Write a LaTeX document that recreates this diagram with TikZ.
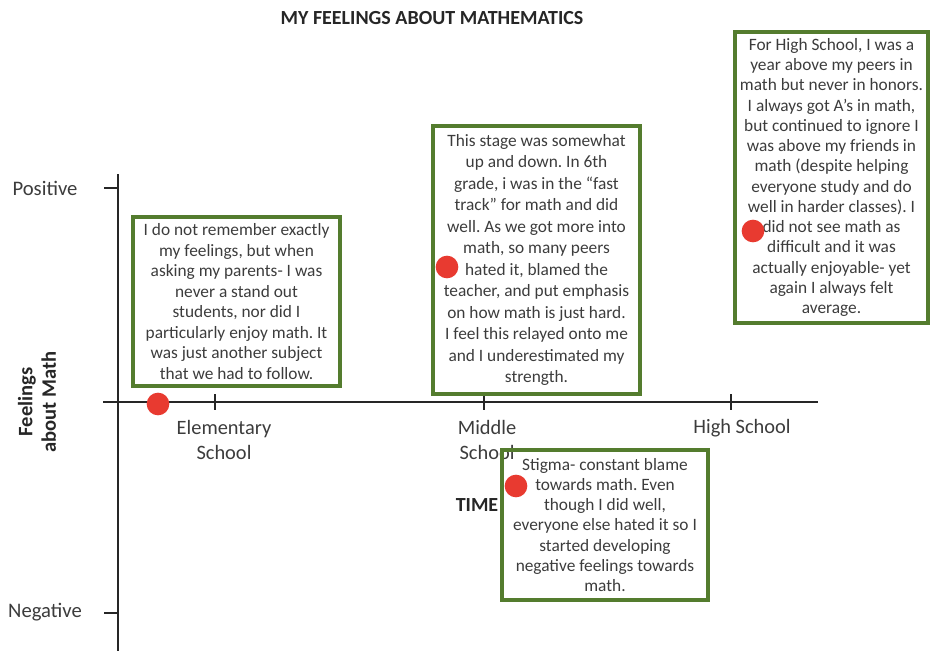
\documentclass[tikz,border=0pt]{standalone}
\usepackage{fontspec}
\setmainfont{Carlito}
\usetikzlibrary{positioning}

\definecolor{boxgreen}{RGB}{84,124,46}
\definecolor{dotred}{RGB}{232,58,48}
\definecolor{inkgray}{RGB}{60,60,60}

\begin{document}
\frenchspacing
\begin{tikzpicture}[
    x=0.75pt, y=-0.75pt,
    font=\fontsize{13}{15.4}\selectfont,
    text=inkgray,
    notebox/.style={
        rectangle, draw=boxgreen, line width=2.6pt,
        align=center, inner sep=0pt
    },
    feeldot/.style={circle, fill=dotred, minimum size=17pt, inner sep=0pt},
    header/.style={font=\fontsize{15}{18}\selectfont\bfseries, text=black!85},
    stagelabel/.style={font=\fontsize{15.3}{19}\selectfont, align=center},
    axislabel/.style={font=\fontsize{15.5}{18}\selectfont},
    axis/.style={line width=1.5pt, black!85},
]
    \useasboundingbox (0,0) rectangle (930,651);

    % Axis positions (pixels of the reference).
    \def\xAxis{118}
    \def\yAxis{402}
    \def\yPos{188}
    \def\yNeg{613}

    % Stage tick x-coordinates.
    \def\xElem{215}
    \def\xMid{484}
    \def\xHigh{731}

    % ---------- Axes ----------
    \coordinate (haxis-start) at (103, \yAxis);
    \coordinate (haxis-end) at (818, \yAxis);
    \coordinate (vaxis-top) at (\xAxis, 174);
    \coordinate (vaxis-bot) at (\xAxis, 651);
    \draw[axis] (haxis-start) -- (haxis-end);
    \draw[axis] (vaxis-top) -- (vaxis-bot);

    \coordinate (pos-tick) at (\xAxis, \yPos);
    \coordinate (neg-tick) at (\xAxis, \yNeg);
    \draw[axis] (pos-tick) -- +(-14,0);
    \draw[axis] (neg-tick) -- +(-14,0);

    \foreach \xt/\nm in {\xElem/elem, \xMid/mid, \xHigh/high} {
        \coordinate (\nm-tick) at (\xt, \yAxis);
        \draw[axis] (\nm-tick) ++(0,-8) -- ++(0,16);
    }

    % ---------- Axis labels ----------
    \node[axislabel] (positive) at (45, \yPos) {Positive};
    \node[axislabel] (negative) at (45, 612) {Negative};
    \node[header, font=\fontsize{15.4}{17.5}\selectfont\bfseries, rotate=90, align=center]
        (feelings) at (37, 402) {Feelings\\about Math};

    \node[stagelabel] (elem-label) at (224, 440) {Elementary\\School};
    \node[stagelabel] (mid-label) at (487, 440) {Middle\\School};
    \node[stagelabel] (high-label) at (742, 428) {High School};
    \node[header] (time) at (477, 505) {TIME};

    % ---------- Title ----------
    \node[header] (title) at (432, 18) {MY FEELINGS ABOUT MATHEMATICS};

    % ---------- Notes ----------
    \node[notebox, minimum width=155pt, minimum height=127pt] (elem-note) at (236.5, 301.5)
        {I do not remember exactly\\my feelings, but when\\asking my parents- I was\\never a stand out\\students, nor did I\\particularly enjoy math. It\\was just another subject\\that we had to follow.};

    \node[notebox, minimum width=155pt, minimum height=201pt,
        font=\fontsize{13}{16.1}\selectfont] (mid-note) at (536.5, 260)
        {This stage was somewhat\\up and down. In 6th\\grade, i was in the “fast\\track” for math and did\\well. As we got more into\\math, so many peers\\hated it, blamed the\\teacher, and put emphasis\\on how math is just hard.\\I feel this relayed onto me\\and I underestimated my\\strength.};

    \node[notebox, minimum width=145pt, minimum height=218pt,
        font=\fontsize{13}{15.2}\selectfont] (high-note) at (831.5, 177.5)
        {For High School, I was a\\year above my peers in\\math but never in honors.\\I always got A’s in math,\\but continued to ignore I\\was above my friends in\\math (despite helping\\everyone study and do\\well in harder classes). I\\did not see math as\\difficult and it was\\actually enjoyable- yet\\again I always felt\\average.};

    \node[notebox, minimum width=154.5pt, minimum height=112.5pt,
        font=\fontsize{13}{15.2}\selectfont] (stigma-note) at (605, 525)
        {Stigma- constant blame\\towards math. Even\\though I did well,\\everyone else hated it so I\\started developing\\negative feelings towards\\math.};

    % ---------- Feeling points ----------
    \node[feeldot] (elem-dot) at (158, 404) {};
    \node[feeldot] (mid-dot) at (447, 267) {};
    \node[feeldot] (high-dot) at (753, 231) {};
    \node[feeldot] (stigma-dot) at (516, 486) {};

\end{tikzpicture}
\end{document}
